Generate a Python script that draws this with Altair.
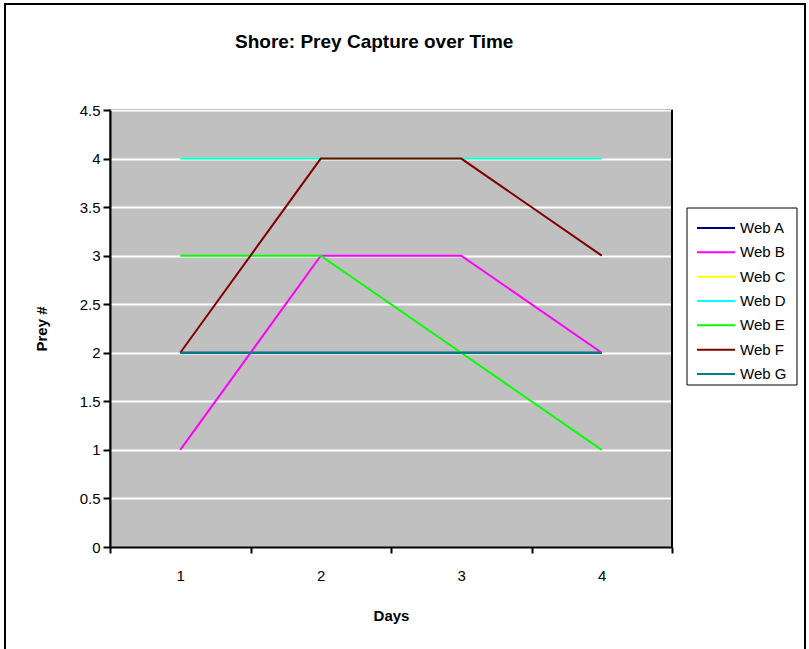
import altair as alt
import pandas as pd

days = [1, 2, 3, 4]
series_names = ["Web A", "Web B", "Web C", "Web D", "Web E", "Web F", "Web G"]
web_a = [2, 2, 2, 2]
web_b = [1, 3, 3, 2]
web_c = [4, 4, 4, 4]
web_d = [4, 4, 4, 4]
web_e = [3, 3, 2, 1]
web_f = [2, 4, 4, 3]
web_g = [2, 2, 2, 2]
colors = ["#000080", "#FF00FF", "#FFFF00", "#00FFFF", "#00FF00", "#800000", "#008080"]
y_ticks = [0, 0.5, 1, 1.5, 2, 2.5, 3, 3.5, 4, 4.5]
title_text = "Shore: Prey Capture over Time"

rows = []
for name, vals in zip(series_names, [web_a, web_b, web_c, web_d, web_e, web_f, web_g]):
    for d, v in zip(days, vals):
        rows.append({"Day": d, "Prey": v, "Series": name})
df = pd.DataFrame(rows)
legend_df = pd.DataFrame({"Series": series_names})

FONT = "Liberation Sans"
W, H = 562, 437

x_vals = [0.5, 1, 1.5, 2, 2.5, 3, 3.5, 4, 4.5]
color_scale = alt.Scale(domain=series_names, range=colors)

lines = alt.Chart(df).mark_line(strokeWidth=2, clip=False).encode(
    x=alt.X("Day:Q", scale=alt.Scale(domain=[0.5, 4.5], nice=False, zero=False),
            axis=alt.Axis(values=x_vals, grid=False, title="Days",
                          labelExpr="datum.value % 1 == 0 ? datum.value : ''",
                          tickColor={"condition": {"test": "datum.value % 1 == 0", "value": "transparent"}, "value": "black"},
                          tickSize=6, tickWidth=2, domainColor="black", domainWidth=2,
                          labelPadding=15, titlePadding=25, labelFontSize=15, titleFontSize=15,
                          labelFont=FONT, titleFont=FONT, titleFontWeight="bold",
                          labelColor="black", titleColor="black", labelFlush=False)),
    y=alt.Y("Prey:Q", scale=alt.Scale(domain=[0, 4.5], nice=False),
            axis=alt.Axis(values=y_ticks, grid=True, gridColor="white", gridWidth=2, title="Prey #",
                          format="~g",
                          tickSize=7, tickWidth=2, tickColor="black", domainColor="black", domainWidth=2,
                          labelPadding=3, titlePadding=30, labelFontSize=15, titleFontSize=15,
                          labelFont=FONT, titleFont=FONT, titleFontWeight="bold",
                          labelColor="black", titleColor="black")),
    color=alt.Color("Series:N", scale=color_scale, legend=None),
)

one = pd.DataFrame({"t": [title_text]})

border = alt.Chart(one).mark_rect(fill=None, stroke="black", strokeWidth=2).encode(
    x=alt.value(-105), x2=alt.value(695), y=alt.value(-106), y2=alt.value(560)
)

right_edge = alt.Chart(one).mark_rule(color="black", strokeWidth=2).encode(
    x=alt.value(W), y=alt.value(0), y2=alt.value(H)
)

title = alt.Chart(one).mark_text(font=FONT, fontSize=19, fontWeight="bold", color="black",
                                 align="left", baseline="middle").encode(
    text="t:N", x=alt.value(125), y=alt.value(-68)
)

leg_y = alt.Y("Series:N", scale=alt.Scale(type="point", domain=series_names, range=[118, 264], padding=0),
              axis=None)

legend_box = alt.Chart(one).mark_rect(fill="white", stroke="black", strokeWidth=1).encode(
    x=alt.value(577), x2=alt.value(687), y=alt.value(98), y2=alt.value(275)
)

legend_lines = alt.Chart(legend_df).mark_rule(strokeWidth=2).encode(
    x=alt.value(587), x2=alt.value(625), y=leg_y,
    color=alt.Color("Series:N", scale=color_scale, legend=None),
)

legend_text = alt.Chart(legend_df).mark_text(font=FONT, fontSize=15, color="black",
                                             align="left", baseline="middle").encode(
    x=alt.value(630), y=leg_y, text="Series:N"
)

chart = alt.layer(border, lines, right_edge, title, legend_box, legend_lines, legend_text).resolve_scale(
    y="independent"
).properties(
    width=W, height=H,
    autosize=alt.AutoSizeParams(type="none"),
    padding={"left": 110, "top": 110, "right": 137, "bottom": 102},
    background="white",
).configure_view(fill="#C0C0C0", stroke="#808080", strokeWidth=2)

chart.save("out.html", embed_options={"renderer": "svg", "actions": False})
